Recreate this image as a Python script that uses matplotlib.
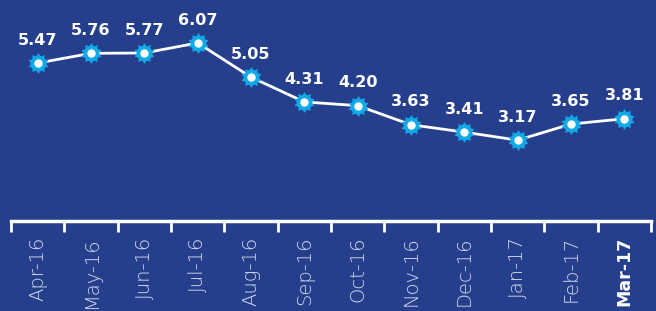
import numpy as np
import matplotlib.pyplot as plt

# Datos
meses = ["Apr-16", "May-16", "Jun-16", "Jul-16", "Aug-16", "Sep-16",
         "Oct-16", "Nov-16", "Dec-16", "Jan-17", "Feb-17", "Mar-17"]
valores = [5.47, 5.76, 5.77, 6.07, 5.05, 4.31, 4.20, 3.63, 3.41, 3.17, 3.65, 3.81]

fondo = "#253f8c"
cian = "#12a9e8"

fig = plt.figure(figsize=(6.56, 3.11), dpi=100, facecolor=fondo)
ax = fig.add_axes([11 / 656, 90 / 311, 640 / 656, 221 / 311])
ax.set_facecolor(fondo)

x = np.arange(len(meses))
ax.plot(x, valores, color="white", lw=2.0, zorder=2)
# marcador tipo engranaje
ax.plot(x, valores, ls="none", marker=(10, 1, 0), ms=14, color=cian, mec=cian, zorder=3)
ax.plot(x, valores, ls="none", marker="o", ms=10.5, color=cian, mec=cian, zorder=3)
ax.plot(x, valores, ls="none", marker="o", ms=5, color="white", mec="white", zorder=4)

for xi, v in zip(x, valores):
    ax.annotate(f"{v:.2f}", (xi, v), xytext=(0, 11), textcoords="offset points",
                ha="center", va="bottom", color="white", fontsize=11.5,
                fontweight="bold", family="DejaVu Sans")

ax.set_xlim(-0.5, len(meses) - 0.5)
ax.set_ylim(0.76, 7.35)
ax.set_yticks([])

for s in ["top", "right", "left"]:
    ax.spines[s].set_visible(False)
ax.spines["bottom"].set_color("white")
ax.spines["bottom"].set_linewidth(2.5)

# marcas entre categorías
ax.set_xticks(np.arange(len(meses) + 1) - 0.5, minor=False)
ax.set_xticklabels([])
ax.tick_params(axis="x", which="major", length=8, width=2, color="white", direction="out")
ax.set_xticks(x, minor=True)
ax.set_xticklabels(meses, minor=True)
ax.tick_params(axis="x", which="minor", length=0, pad=11, labelsize=14,
               labelcolor="#d6dcef", rotation=90)
for lab in ax.get_xticklabels(minor=True):
    lab.set_family("DejaVu Sans")
    lab.set_fontweight("light")
    lab.set_va("top")
ult = ax.get_xticklabels(minor=True)[-1]
ult.set_fontweight("bold")
ult.set_fontsize(12.5)
ult.set_color("white")

fig.savefig("out.png", dpi=100, facecolor=fondo)
